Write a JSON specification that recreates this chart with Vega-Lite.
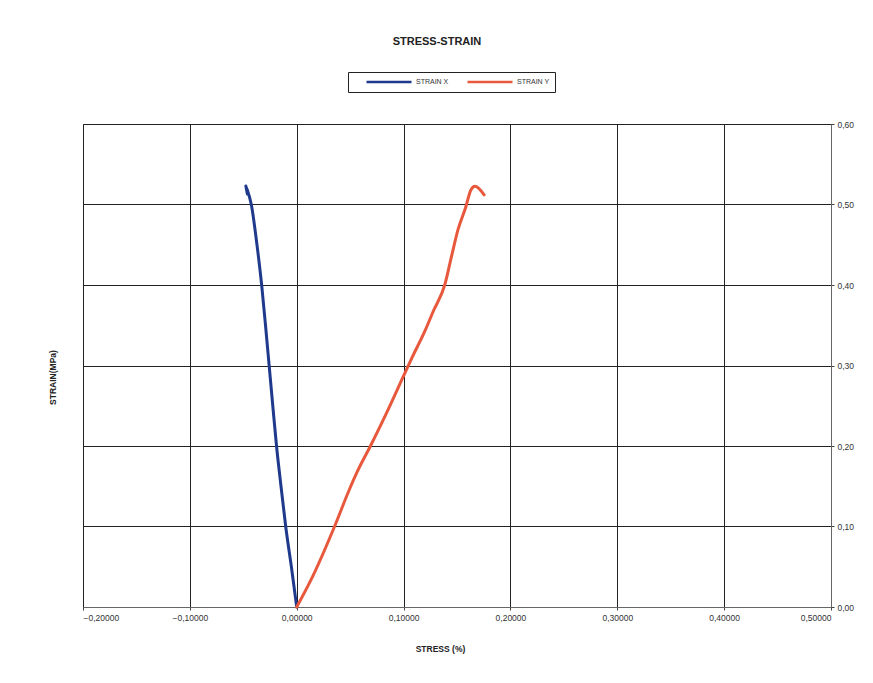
{
  "$schema": "https://vega.github.io/schema/vega-lite/v6.json",
  "width": 748,
  "height": 483,
  "autosize": {"type": "none"},
  "padding": {"left": 83, "top": 124, "right": 42, "bottom": 76},
  "background": "white",
  "title": {
    "text": "STRESS-STRAIN",
    "font": "Liberation Sans",
    "fontSize": 11,
    "fontWeight": "bold",
    "color": "#222",
    "anchor": "middle",
    "frame": "group",
    "offset": 25,
    "dx": -20
  },
  "data": {
    "values": [
      {"series": "STRAIN X", "i": 0, "stress": 0.0, "strain": 0.0},
      {"series": "STRAIN X", "i": 1, "stress": -0.005, "strain": 0.05},
      {"series": "STRAIN X", "i": 2, "stress": -0.0103, "strain": 0.1},
      {"series": "STRAIN X", "i": 3, "stress": -0.0147, "strain": 0.15},
      {"series": "STRAIN X", "i": 4, "stress": -0.0189, "strain": 0.2},
      {"series": "STRAIN X", "i": 5, "stress": -0.0224, "strain": 0.25},
      {"series": "STRAIN X", "i": 6, "stress": -0.0258, "strain": 0.3},
      {"series": "STRAIN X", "i": 7, "stress": -0.0292, "strain": 0.35},
      {"series": "STRAIN X", "i": 8, "stress": -0.0328, "strain": 0.4},
      {"series": "STRAIN X", "i": 9, "stress": -0.0372, "strain": 0.45},
      {"series": "STRAIN X", "i": 10, "stress": -0.0425, "strain": 0.5},
      {"series": "STRAIN X", "i": 11, "stress": -0.0462, "strain": 0.518},
      {"series": "STRAIN X", "i": 12, "stress": -0.0476, "strain": 0.523},
      {"series": "STRAIN X", "i": 13, "stress": -0.0462, "strain": 0.513},
      {"series": "STRAIN Y", "i": 0, "stress": 0.0, "strain": 0.0},
      {"series": "STRAIN Y", "i": 1, "stress": 0.0153, "strain": 0.039},
      {"series": "STRAIN Y", "i": 2, "stress": 0.0354, "strain": 0.1},
      {"series": "STRAIN Y", "i": 3, "stress": 0.049, "strain": 0.145},
      {"series": "STRAIN Y", "i": 4, "stress": 0.057, "strain": 0.169},
      {"series": "STRAIN Y", "i": 5, "stress": 0.069, "strain": 0.2},
      {"series": "STRAIN Y", "i": 6, "stress": 0.083, "strain": 0.238},
      {"series": "STRAIN Y", "i": 7, "stress": 0.1, "strain": 0.287},
      {"series": "STRAIN Y", "i": 8, "stress": 0.108, "strain": 0.31},
      {"series": "STRAIN Y", "i": 9, "stress": 0.12, "strain": 0.343},
      {"series": "STRAIN Y", "i": 10, "stress": 0.128, "strain": 0.368},
      {"series": "STRAIN Y", "i": 11, "stress": 0.1385, "strain": 0.4},
      {"series": "STRAIN Y", "i": 12, "stress": 0.1446, "strain": 0.434},
      {"series": "STRAIN Y", "i": 13, "stress": 0.151, "strain": 0.469},
      {"series": "STRAIN Y", "i": 14, "stress": 0.158, "strain": 0.496},
      {"series": "STRAIN Y", "i": 15, "stress": 0.163, "strain": 0.518},
      {"series": "STRAIN Y", "i": 16, "stress": 0.1668, "strain": 0.5226},
      {"series": "STRAIN Y", "i": 17, "stress": 0.1754, "strain": 0.512}
    ]
  },
  "mark": {"type": "line", "strokeWidth": 3, "strokeCap": "round", "strokeJoin": "round", "interpolate": "monotone"},
  "encoding": {
    "x": {
      "field": "stress",
      "type": "quantitative",
      "scale": {"domain": [-0.2, 0.5], "nice": false, "zero": false},
      "axis": {
        "title": "STRESS (%)",
        "values": [-0.2, -0.1, 0, 0.1, 0.2, 0.3, 0.4, 0.5],
        "labelExpr": "replace(format(datum.value, '.5f'), '.', ',')",
        "titleX": 357,
        "titleY": 41,
        "titleBaseline": "middle",
        "titleAnchor": "middle"
      }
    },
    "y": {
      "field": "strain",
      "type": "quantitative",
      "scale": {"domain": [0, 0.6], "nice": false},
      "axis": {
        "orient": "right",
        "title": "STRAIN(MPa)",
        "values": [0, 0.1, 0.2, 0.3, 0.4, 0.5, 0.6],
        "labelExpr": "replace(format(datum.value, '.2f'), '.', ',')",
        "titleAngle": -90,
        "titleX": -779,
        "titleY": 253,
        "titleBaseline": "middle",
        "titleAlign": "center",
        "titleAnchor": "middle"
      }
    },
    "color": {
      "field": "series",
      "type": "nominal",
      "scale": {"domain": ["STRAIN X", "STRAIN Y"], "range": ["#1f3a8c", "#e8583c"]},
      "legend": {
        "title": null,
        "orient": "none",
        "direction": "horizontal",
        "legendX": 265,
        "legendY": -52,
        "symbolType": "stroke",
        "symbolSize": 2025,
        "symbolStrokeWidth": 2.5,
        "clipHeight": 10,
        "symbolOffset": 12,
        "labelOffset": 3,
        "columnPadding": 5,
        "padding": 5,
        "strokeColor": "#222",
        "fillColor": "white",
        "labelFont": "Liberation Sans",
        "labelFontSize": 7,
        "labelColor": "#333"
      }
    },
    "order": {"field": "i", "type": "quantitative"}
  },
  "config": {
    "view": {"stroke": "#666", "strokeWidth": 1},
    "axis": {
      "grid": true,
      "gridColor": "#222",
      "gridWidth": 1,
      "gridOpacity": 1,
      "domainColor": "#666",
      "tickColor": "#444",
      "tickSize": 3,
      "labelFont": "Liberation Sans",
      "labelFontSize": 8.5,
      "labelColor": "#333",
      "labelPadding": 3,
      "titleFont": "Liberation Sans",
      "titleFontSize": 8.5,
      "titleFontWeight": "bold",
      "titleColor": "#222"
    }
  }
}
